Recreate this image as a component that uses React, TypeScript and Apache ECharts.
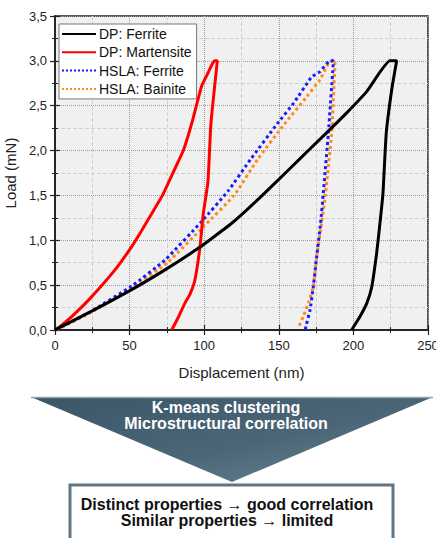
import React, { useEffect, useRef } from "react";
import * as echarts from "echarts";

const seriesNames = ["DP: Ferrite", "DP: Martensite", "HSLA: Ferrite", "HSLA: Bainite"];

const dpFerrite: [number, number][] = [
  [0, 0], [2.2, 0.02], [22.3, 0.19], [51.4, 0.45], [73.7, 0.67], [96, 0.91], [105, 1.02],
  [118.4, 1.19], [127.3, 1.32], [137, 1.47], [157.5, 1.8], [171, 2.02], [184, 2.23],
  [195.5, 2.42], [209, 2.66], [224.5, 3.0], [229, 3.0],
  [225.7, 2.68], [222, 2.19], [219.8, 1.52], [217.8, 1.19], [215.6, 0.86], [212.3, 0.48],
  [209, 0.3], [204.4, 0.15], [198.8, 0],
];

const dpMartensite: [number, number][] = [
  [0.7, 0], [2.2, 0.02], [11.2, 0.15], [22.3, 0.33], [40.2, 0.67], [51.4, 0.93], [58.1, 1.11],
  [66, 1.33], [72, 1.5], [79.3, 1.76], [86, 2.0], [91.6, 2.3], [98.3, 2.72], [102.7, 2.87],
  [106.8, 3.0], [108.8, 3.0],
  [104.5, 2.3], [102.5, 1.65], [99.4, 1.3], [97.2, 0.93], [93.8, 0.56], [90.5, 0.4],
  [87.1, 0.3], [82, 0.12], [78.2, 0],
];

const hslaFerrite: [number, number][] = [
  [1, 0], [4.5, 0.04], [22.3, 0.19], [51.4, 0.49], [73.7, 0.78], [98.3, 1.21], [116, 1.55],
  [131, 1.9], [149, 2.3], [160, 2.53], [172, 2.82], [177.6, 2.88], [184.3, 3.0], [186.6, 3.0],
  [183.2, 2.19], [179.8, 1.52], [178, 1.19], [175.4, 0.82], [173.1, 0.48], [170.9, 0.22],
  [168.2, 0.04], [167.8, 0],
];

const hslaBainite: [number, number][] = [
  [1, 0], [4.5, 0.03], [22.3, 0.18], [51.4, 0.46], [75.9, 0.76], [99.4, 1.15], [120, 1.5],
  [135.7, 1.9], [154, 2.3], [168.7, 2.6], [177.6, 2.79], [183.2, 2.97], [186.6, 3.0], [187.7, 3.0],
  [185.4, 2.19], [181.3, 1.52], [178.7, 1.19], [175.4, 0.82], [173.1, 0.48], [169.8, 0.3],
  [166.4, 0.15], [163, 0.02],
];

const seriesData = [dpFerrite, dpMartensite, hslaFerrite, hslaBainite];
const seriesColors = ["#000000", "#ff0000", "#1a1aff", "#ff8c1a"];
const seriesTypes = ["solid", "solid", "dotted", "dotted"];

const xTicks = { min: 0, max: 250, interval: 50 };
const yTicks = { min: 0, max: 3.5, interval: 0.5 };

const topText = ["K-means clustering", "Microstructural correlation"];
const bottomText = ["Distinct properties \u2192 good correlation", "Similar properties \u2192 limited"];

const FONT = "'Liberation Sans', Arial, Helvetica, sans-serif";

export default function App() {
  const ref = useRef<HTMLDivElement>(null);
  useEffect(() => {
    if (!ref.current) return;
    const chart = echarts.init(ref.current, undefined, { renderer: "svg" });
    const tickCommon = {
      axisLine: { show: true, lineStyle: { color: "#222", width: 1.5 } },
      axisTick: { show: true, inside: true, length: 5, lineStyle: { color: "#222", width: 1.2 } },
      minorTick: { show: true, splitNumber: 2, length: 3, lineStyle: { color: "#222", width: 1 } },
    };
    chart.setOption({
      animation: false,
      textStyle: { fontFamily: FONT },
      grid: {
        left: 55, right: 8, top: 16, height: 314, show: true, containLabel: false,
        outerBoundsMode: "none",
        backgroundColor: "#f0f0f0", borderColor: "#222", borderWidth: 1.5,
      },
      legend: {
        orient: "vertical", left: 59, top: 24, itemWidth: 34, itemHeight: 14, itemGap: 4.3,
        padding: [3, 5, 3, 2], backgroundColor: "#ffffff", borderColor: "#777", borderWidth: 1,
        itemStyle: { opacity: 0 },
        textStyle: { fontSize: 14, color: "#111", fontFamily: FONT, padding: [0, 0, 0, -2] },
        data: seriesNames,
      },
      xAxis: [
        {
          type: "value", ...xTicks, ...tickCommon,
          name: "Displacement (nm)", nameLocation: "middle", nameGap: 35,
          nameTextStyle: { fontSize: 15, color: "#222", fontFamily: FONT },
          axisLabel: { fontSize: 13, color: "#222", margin: 9, fontFamily: FONT },
          splitLine: { show: true, lineStyle: { color: "#9a9a9a", type: "dotted", width: 1 } },
          minorSplitLine: { show: true, lineStyle: { color: "#d0d0d0", type: "dashed", width: 1 } },
        },
        {
          type: "value", position: "top", ...xTicks, ...tickCommon,
          axisLabel: { show: false }, splitLine: { show: false },
        },
      ],
      yAxis: [
        {
          type: "value", ...yTicks, ...tickCommon,
          name: "Load (mN)", nameLocation: "middle", nameGap: 31,
          nameTextStyle: { fontSize: 15, color: "#222", fontFamily: FONT },
          axisLabel: {
            fontSize: 13, color: "#222", margin: 8, fontFamily: FONT,
            formatter: (v: number) => v.toFixed(1).replace(".", ","),
          },
          splitLine: { show: true, lineStyle: { color: "#9a9a9a", type: "dotted", width: 1 } },
          minorSplitLine: { show: true, lineStyle: { color: "#d0d0d0", type: "dashed", width: 1 } },
        },
        {
          type: "value", position: "right", ...yTicks, ...tickCommon,
          axisLabel: { show: false }, splitLine: { show: false },
        },
      ],
      series: seriesNames.map((name, i) => ({
        name, type: "line", data: seriesData[i], symbol: "none", showSymbol: false,
        smooth: 0.15, z: 10 - i,
        lineStyle: { color: seriesColors[i], width: 3, type: seriesTypes[i] as any },
        itemStyle: { color: seriesColors[i] },
      })),
      graphic: [
        {
          type: "polygon", z: 1,
          shape: { points: [[31, 397], [433, 397], [232, 482]] },
          style: {
            fill: new echarts.graphic.LinearGradient(0, 0, 1, 1, [
              { offset: 0, color: "#3b5666" },
              { offset: 0.55, color: "#4b6676" },
              { offset: 1, color: "#6e8794" },
            ]),
          },
        },
        {
          type: "line", z: 2,
          shape: { x1: 31, y1: 397.5, x2: 433, y2: 397.5 },
          style: { stroke: "#8ea3ae", lineWidth: 1.5 },
        },
        {
          type: "text", z: 3, x: 226, y: 415,
          style: {
            text: topText.join("\n"), fill: "#ffffff", font: `bold 16px ${FONT}`,
            lineHeight: 16, align: "center", verticalAlign: "middle",
          },
        },
        {
          type: "rect", z: 1,
          shape: { x: 70, y: 485, width: 323, height: 70 },
          style: { fill: "#ffffff", stroke: "#5f7684", lineWidth: 3 },
        },
        {
          type: "text", z: 3, x: 227, y: 512,
          style: {
            text: bottomText.join("\n"), fill: "#111111", font: `bold 16px ${FONT}`,
            lineHeight: 16, align: "center", verticalAlign: "middle",
          },
        },
      ],
    });
    return () => chart.dispose();
  }, []);
  return (
    <div
      ref={ref}
      style={{ position: "absolute", left: 0, top: 0, width: 436, height: 538, background: "#ffffff" }}
    />
  );
}
